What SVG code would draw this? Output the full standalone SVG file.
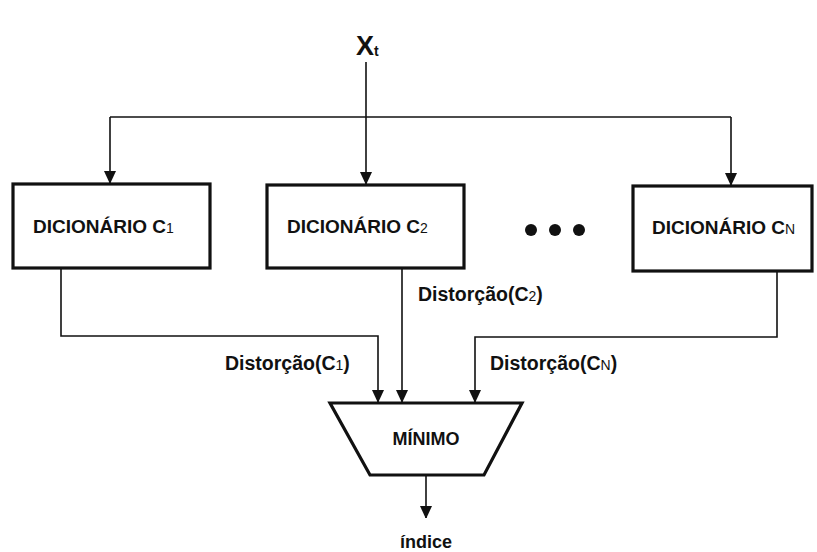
<svg xmlns="http://www.w3.org/2000/svg" width="817" height="552" viewBox="0 0 817 552">
  <style>
    .box { fill: #fff; stroke: #111; stroke-width: 3.2; }
    .wire { fill: none; stroke: #111; stroke-width: 1.6; }
    .lbl { font-family: "Liberation Sans", Arial, sans-serif; font-weight: bold; fill: #111; }
    .boxlbl { font-size: 19px; }
    .dist { font-size: 19.5px; }
    .sub { font-size: 14px; font-weight: normal; }
  </style>
  <defs>
    <marker id="arrow" markerWidth="12" markerHeight="14" refX="12" refY="6" orient="auto" markerUnits="userSpaceOnUse">
      <path d="M0,0 L13,6 L0,12 Z" fill="#111"/>
    </marker>
  </defs>
  <rect width="817" height="552" fill="#fff"/>

  <!-- input label -->
  <g id="input">
    <text class="lbl" x="356" y="55" font-size="27px">X<tspan font-size="14px" dy="1">t</tspan></text>
  </g>

  <!-- connectors -->
  <g id="connectors">
    <path class="wire" d="M366,62 V184" marker-end="url(#arrow)"/>
    <path class="wire" d="M110,117 H731"/>
    <path class="wire" d="M110,117 V183" marker-end="url(#arrow)"/>
    <path class="wire" d="M731,117 V185" marker-end="url(#arrow)"/>
    <path class="wire" d="M61,268 V336 H378 V402" marker-end="url(#arrow)"/>
    <path class="wire" d="M402,268 V402" marker-end="url(#arrow)"/>
    <path class="wire" d="M777,271 V337 H475 V402" marker-end="url(#arrow)"/>
    <path class="wire" d="M426,475 V518" marker-end="url(#arrow)"/>
  </g>

  <g id="dict1">
    <rect class="box" x="13" y="184" width="197" height="84"/>
    <text class="lbl boxlbl" x="33" y="233">DICIONÁRIO C<tspan class="sub">1</tspan></text>
  </g>
  <g id="dict2">
    <rect class="box" x="267" y="185" width="197" height="83"/>
    <text class="lbl boxlbl" x="287" y="233">DICIONÁRIO C<tspan class="sub">2</tspan></text>
  </g>
  <g id="ellipsis">
    <circle cx="531" cy="230" r="6" fill="#111"/>
    <circle cx="555" cy="230" r="6" fill="#111"/>
    <circle cx="579" cy="230" r="6" fill="#111"/>
  </g>
  <g id="dictN">
    <rect class="box" x="633" y="186" width="179" height="85"/>
    <text class="lbl boxlbl" x="652" y="234">DICIONÁRIO C<tspan class="sub">N</tspan></text>
  </g>

  <!-- distortion labels -->
  <text class="lbl dist" x="418" y="301">Distorção(C<tspan class="sub">2</tspan>)</text>
  <text class="lbl dist" x="225" y="370">Distorção(C<tspan class="sub">1</tspan>)</text>
  <text class="lbl dist" x="490" y="370">Distorção(C<tspan class="sub">N</tspan>)</text>

  <g id="minimo">
    <path class="box" d="M330,403 H522 L484,475 H370 Z"/>
    <text class="lbl" x="426" y="445" font-size="18px" text-anchor="middle">MÍNIMO</text>
  </g>

  <g id="output">
    <text class="lbl" x="426" y="548" font-size="18px" text-anchor="middle">índice</text>
  </g>
</svg>
